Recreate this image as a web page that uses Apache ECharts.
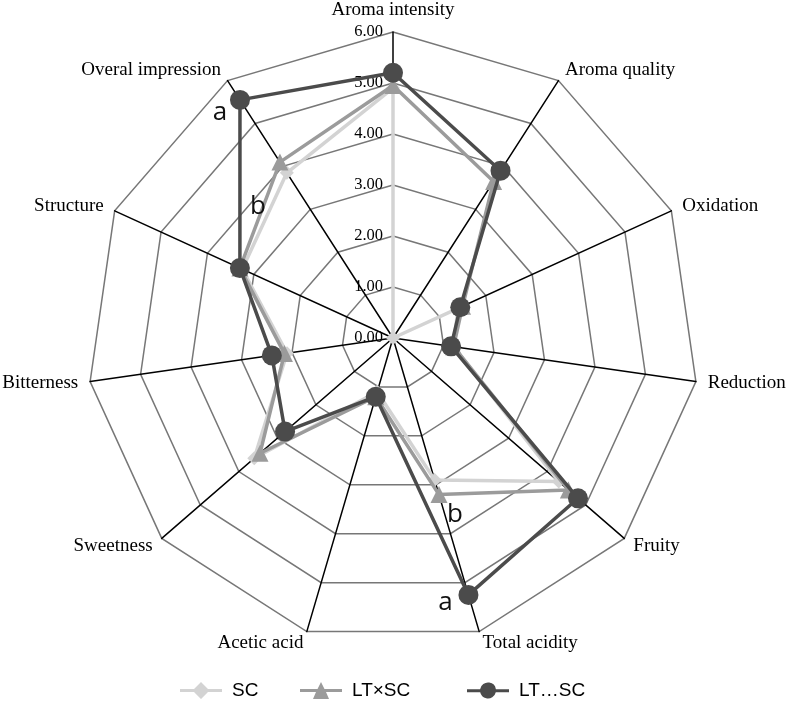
<!DOCTYPE html>
<html>
<head>
<meta charset="utf-8">
<script src="https://cdn.jsdelivr.net/npm/echarts@6/dist/echarts.min.js"></script>
<style>html,body{margin:0;padding:0;background:#fff}#chart{width:788px;height:701px}</style>
</head>
<body>
<div id="chart"></div>
<script>
// Attribute categories in clockwise order starting at the top
const categories = ['Aroma intensity','Aroma quality','Oxidation','Reduction','Fruity','Total acidity','Acetic acid','Sweetness','Bitterness','Structure','Overal impression'];
const seriesNames = ['SC', 'LT\u00d7SC', 'LT\u2026SC'];
const valuesSC    = [4.9, 0.0, 1.4, 1.2, 4.3, 2.9, 1.1, 3.6, 2.1, 3.25, 3.85];
const valuesLTxSC = [4.95, 3.65, 1.5, 1.2, 4.55, 3.2, 1.2, 3.45, 2.15, 3.3, 4.1];
const valuesLTSC  = [5.2, 3.9, 1.45, 1.15, 4.8, 5.25, 1.2, 2.8, 2.4, 3.3, 5.55];
const tickLabels  = ['0.00','1.00','2.00','3.00','4.00','5.00','6.00'];
// significance letters: [series index, category, letter]
const letters = [[2,'Overal impression','a'],[1,'Overal impression','b'],[1,'Total acidity','b'],[2,'Total acidity','a']];

// ECharts radar runs counter-clockwise; reorder to get clockwise layout
const order = [0].concat(categories.map((_, i) => i).slice(1).reverse());
const reorder = arr => order.map(i => arr[i]);

const colors = ['#d3d3d3', '#9b9b9b', '#4b4b4b'];
const symbols = ['diamond', 'triangle', 'circle'];
const symbolSizes = [14, 17, 20];
const legendIcons = [
  'path://M0,7 L14,7 L21,0 L28,7 L42,7 L42,10 L28,10 L21,17 L14,10 L0,10 Z',
  'path://M0,7 L17.5,7 L21,0 L24.5,7 L42,7 L42,10 L26,10 L29,17 L13,17 L16,10 L0,10 Z',
  'path://M0,7 L13.1,7 A8,8 0 0 1 28.9,7 L42,7 L42,10 L28.8,10 A8,8 0 0 1 13.2,10 L0,10 Z'
];
const legendLefts = [180, 300, 467];
const allValues = [valuesSC, valuesLTxSC, valuesLTSC];

const indicator = order.map((ci, k) => {
  const ind = { name: categories[ci], min: 0, max: 6 };
  if (k === 0) {
    ind.axisLabel = {
      show: true, color: '#000', fontFamily: 'Liberation Serif', fontSize: 16.5,
      margin: 10, formatter: v => tickLabels[Math.round(v)] || ''
    };
  }
  return ind;
});

const chart = echarts.init(document.getElementById('chart'), null, { renderer: 'canvas' });
const option = {
  animation: false,
  backgroundColor: '#fff',
  legend: seriesNames.map((n, i) => ({
    top: 681,
    left: legendLefts[i],
    padding: 0,
    itemWidth: 42,
    itemHeight: 17,
    textStyle: { color: '#000', fontFamily: 'Liberation Sans', fontSize: 19, padding: [0,0,0,5] },
    data: [{ name: n, icon: legendIcons[i] }]
  })),
  radar: {
    center: [393, 338],
    radius: 306,
    startAngle: 90,
    splitNumber: 6,
    shape: 'polygon',
    indicator: indicator,
    axisName: { color: '#000', fontFamily: 'Liberation Serif', fontSize: 19 },
    nameGap: 12,
    axisLine: { lineStyle: { color: '#000', width: 1.5 } },
    splitLine: { lineStyle: { color: '#777', width: 1.5 } },
    splitArea: { show: false },
    axisTick: { show: false },
    axisLabel: { show: false }
  },
  series: seriesNames.map((n, i) => ({
    type: 'radar',
    name: n,
    z: 2 + i,
    symbol: symbols[i],
    symbolSize: symbolSizes[i],
    lineStyle: { color: colors[i], width: 3.5 },
    itemStyle: { color: colors[i] },
    data: [{ name: n, value: reorder(allValues[i]) }]
  }))
};
chart.setOption(option);

// significance letters placed next to their points via the radar coordinate system
try {
  const cs = chart.getModel().getComponent('radar').coordinateSystem;
  const offs = { '2|Overal impression': [-20, 13], '1|Overal impression': [-22, 44], '1|Total acidity': [16, 20], '2|Total acidity': [-23, 8] };
  const g = letters.map(([si, cat, t]) => {
    const ci = categories.indexOf(cat);
    const k = order.indexOf(ci);
    const p = cs.dataToPoint(allValues[si][ci], k);
    const o = offs[si + '|' + cat];
    return { type: 'text', x: p[0] + o[0], y: p[1] + o[1], z: 100,
      style: { text: t, fill: '#111', font: '26px "Open Sans", "Liberation Sans", sans-serif', align: 'center', verticalAlign: 'middle' } };
  });
  chart.setOption({ graphic: g });
} catch (e) { console.error(e); }
</script>
</body>
</html>
